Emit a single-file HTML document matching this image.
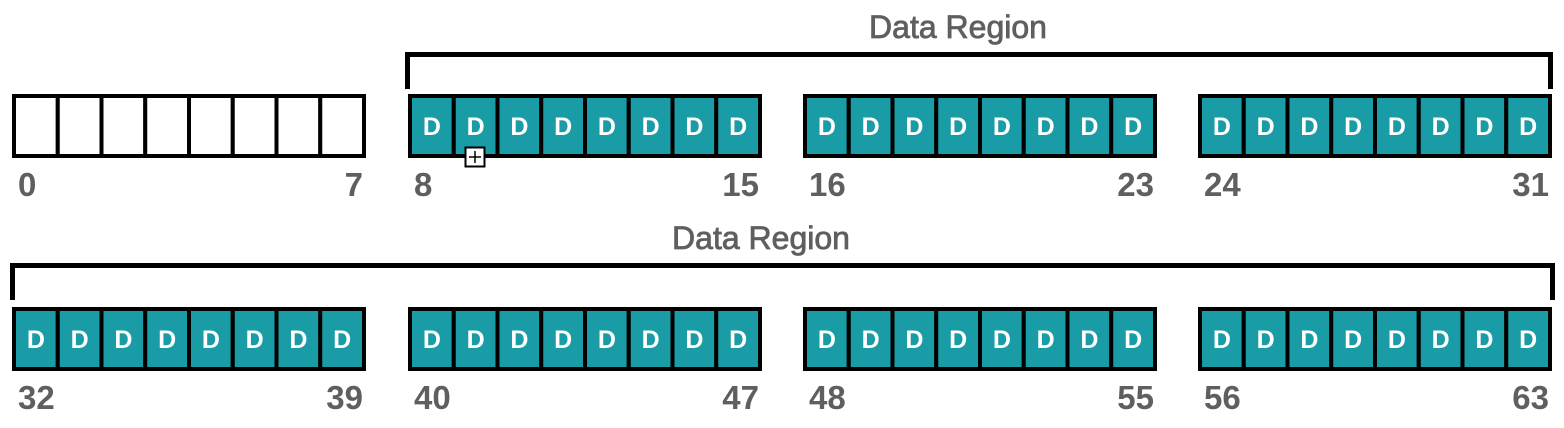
<!DOCTYPE html>
<html><head><meta charset="utf-8"><style>
html,body{margin:0;padding:0;background:#fff;width:1564px;height:428px;overflow:hidden}
text{font-family:"Liberation Sans",sans-serif}
</style></head><body>
<svg id="c" width="1564" height="428" xmlns="http://www.w3.org/2000/svg"></svg>
<script>
const groupStartsIdx = [0,8,16,24,32,40,48,56];
const groupIsData = [false,true,true,true,true,true,true,true];
const regionTitles = ["Data Region","Data Region"];
const NS="http://www.w3.org/2000/svg";
const svg=document.getElementById('c');
function mk(t,a,p){const e=document.createElementNS(NS,t);for(const k in a)e.setAttribute(k,a[k]);(p||svg).appendChild(e);return e;}
const gx=[12,408,803,1198], rowY=[94,307], cw=43.75, h=64;
groupStartsIdx.forEach((start,i)=>{
  const x0=gx[i%4], y0=rowY[Math.floor(i/4)];
  const g=mk('g',{});
  
  
  for(let j=0;j<8;j++){
    const r=mk('rect',{x:x0+j*cw+2,y:y0+2,width:cw,height:h-4,fill:groupIsData[i]?'#1a9ca7':'#fff',stroke:'#000','stroke-width':4},g);
    
    
    if(groupIsData[i]){
      const t=mk('text',{x:x0+j*cw+2+cw/2,y:y0+h/2+9,'text-anchor':'middle','font-size':25,'font-weight':'bold',fill:'#fff'},g);
      t.textContent='D';
      
      
    }
  }
  const ly=y0+h+38;
  const a=mk('text',{x:x0+6,y:ly,'font-size':33,'font-weight':'bold',fill:'#5f5f5f'},g);
  a.textContent=start;
  
  
  const b=mk('text',{x:x0+8*cw+1,y:ly,'text-anchor':'end','font-size':33,'font-weight':'bold',fill:'#5f5f5f'},g);
  b.textContent=start+7;
  
  
});
const br=[[405,1553,52,89,958,38],[10,1555,263,300,761,249]];
br.forEach((b,i)=>{
  const p=mk('path',{d:`M${b[0]+2.5} ${b[3]} V${b[2]+2.5} H${b[1]-2.5} V${b[3]}`,fill:'none',stroke:'#000','stroke-width':5});
  
  
  const t=mk('text',{x:b[4],y:b[5],'text-anchor':'middle','font-size':32,fill:'#5f5f5f',stroke:'#5f5f5f','stroke-width':0.8});
  t.textContent=regionTitles[i];
  
  
});
const pg=mk('g',{});


mk('rect',{x:465.5,y:147.5,width:19,height:19,fill:'#fff',stroke:'#000','stroke-width':2},pg);
mk('path',{d:'M469 157H481M475 151V163',stroke:'#000','stroke-width':1.5},pg);
</script>
</body></html>
